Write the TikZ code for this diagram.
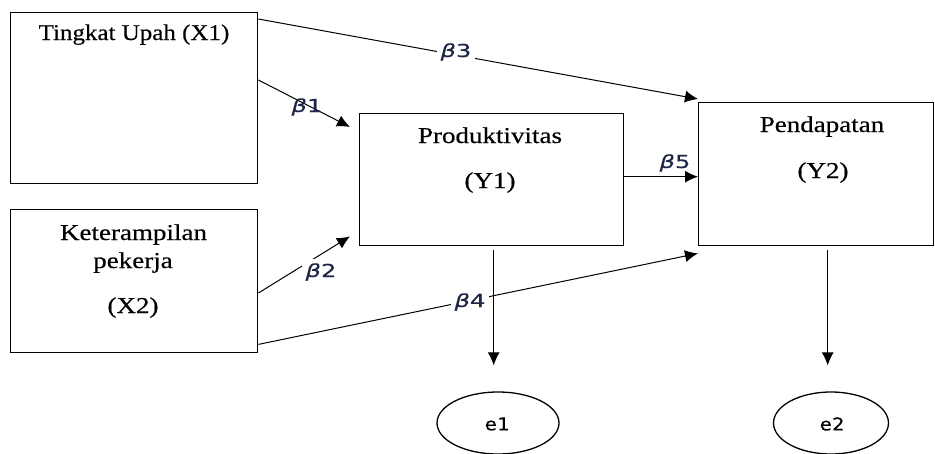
\documentclass[tikz,border=0pt]{standalone}
\usepackage{fontspec}
\usepackage{graphicx}
\setmainfont{Liberation Serif}
\newfontfamily\boxfont{Liberation Serif}[FakeBold=0.35]
\newfontfamily\betafont{DejaVu Sans}[FakeBold=0.3]
\newfontfamily\errfont{DejaVu Sans Mono}[FakeBold=0.2]
\usetikzlibrary{arrows.meta,calc,shapes.geometric}
\definecolor{betacol}{RGB}{30,38,70}
\newcommand{\sqA}[1]{\scalebox{1}[0.9]{#1}}
\newcommand{\sqB}[1]{\scalebox{1}[0.84]{#1}}
\newcommand{\bet}[1]{\scalebox{1.15}[0.85]{\itshape β\upshape #1}}
\newcommand{\err}[1]{\scalebox{1.05}[0.9]{#1}}
\begin{document}
\begin{tikzpicture}[x=1pt,y=-1pt,
  box/.style={draw,line width=1.4pt,inner sep=0pt,anchor=north west},
  oval/.style={draw,ellipse,line width=1.3pt,inner sep=0pt},
  txtA/.style={font=\boxfont\fontsize{25}{28}\selectfont,anchor=base,inner sep=0pt},
  txt/.style={font=\boxfont\fontsize{27}{30}\selectfont,anchor=base,inner sep=0pt},
  blbl/.style={font=\betafont\fontsize{21}{24}\selectfont,text=betacol,fill=white,anchor=base,inner sep=4pt},
  etxt/.style={font=\errfont\fontsize{19.5}{22}\selectfont,inner sep=0pt},
  conn/.style={line width=1pt,draw=black},
  arr/.style={conn,-{Latex[length=13pt,width=12pt]}}
]
\useasboundingbox (0,0) rectangle (935,453);

% boxes
\node[box,minimum width=247pt,minimum height=171pt] (x1) at (10,12) {};
\node[box,minimum width=247pt,minimum height=143pt] (x2) at (10,209) {};
\node[box,minimum width=264pt,minimum height=132pt] (y1) at (359,113) {};
\node[box,minimum width=235pt,minimum height=143pt] (y2) at (698,102) {};
\node[oval,minimum width=122pt,minimum height=62pt] (e1) at (498,423) {};
\node[oval,minimum width=115pt,minimum height=62pt] (e2) at (831,423) {};

% texts
\node[txtA] (tx1) at (134,40) {\sqA{Tingkat Upah (X1)}};
\node[txt] (tx2a) at (133.5,240) {\sqB{Keterampilan}};
\node[txt] (tx2b) at (133,268) {\sqB{pekerja}};
\node[txt] (tx2c) at (133,313) {\sqB{(X2)}};
\node[txt] (ty1a) at (490,143) {\sqB{Produktivitas}};
\node[txt] (ty1b) at (490,188) {\sqB{(Y1)}};
\node[txt] (ty2a) at (822,132) {\sqB{Pendapatan}};
\node[txt] (ty2b) at (823,178) {\sqB{(Y2)}};
\node[etxt] (te1) at (497,424) {\err{e1}};
\node[etxt] (te2) at (832,424) {\err{e2}};

% connector end points
\coordinate (s3) at ($(x1.north east)+(0,7)$);
\coordinate (t3) at ($(y2.north west)+(0,-3)$);
\coordinate (s1) at ($(x1.north east)+(0,68)$);
\coordinate (t1) at ($(y1.north west)+(-9,14)$);
\coordinate (s2) at ($(x2.north east)+(0,84)$);
\coordinate (t2) at ($(y1.south west)+(-9,-10)$);
\coordinate (s4) at ($(x2.south east)+(0,-9)$);
\coordinate (t4) at ($(y2.south west)+(0,7)$);
\coordinate (s5) at ($(y1.east)+(0,-3)$);
\coordinate (d1) at ($(y1.south)+(2,4)$);
\coordinate (d2) at ($(y2.south)+(11.5,4)$);
\coordinate (e1t) at ($(e1.north)+(0,-26)$);
\coordinate (e2t) at ($(e2.north)+(0,-26)$);

% connectors
\draw[arr] (s3) -- (t3);
\draw[arr] (s1) -- (t1);
\draw[arr] (s2) -- (t2);
\draw[arr] (s4) -- (t4);
\draw[arr] (s5) -- (s5 -| y2.west);
\draw[arr] (d1) -- (d1 |- e1t);
\draw[arr] (d2) -- (d2 |- e2t);

% beta labels
\node[blbl,fill=none] (b1) at (307,112) {\bet{1}};
\node[blbl] (b2) at (321,277) {\bet{2}};
\node[blbl] (b3) at (456,57) {\bet{3}};
\node[blbl] (b4) at (470,307) {\bet{4}};
\node[blbl,fill=none] (b5) at (675,168) {\bet{5}};
\end{tikzpicture}
\end{document}
